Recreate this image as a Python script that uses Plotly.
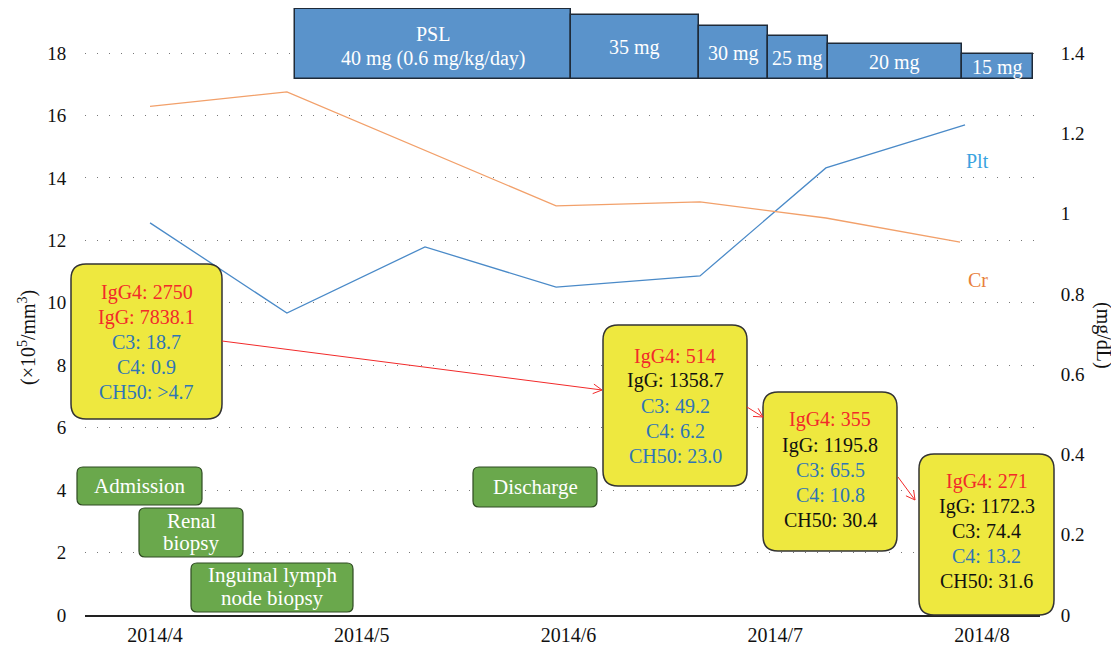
import math
import plotly.graph_objects as go

# ---------------- data ----------------
month_labels = ["2014/4", "2014/5", "2014/6", "2014/7", "2014/8"]
month_pos = [0, 1, 2, 3, 4]

# Platelets (x10^5/mm^3), x in months since 2014/4
plt_x = [-0.024, 0.638, 1.306, 1.94, 2.636, 3.245, 3.918]
plt_y = [12.56, 9.67, 11.79, 10.5, 10.86, 14.32, 15.7]

# Creatinine (mg/dL)
cr_x = [-0.024, 0.638, 1.94, 2.636, 3.245, 3.894]
cr_y = [1.267, 1.303, 1.019, 1.029, 0.989, 0.929]

# PSL dosing periods (months since 2014/4)
psl_start = [0.677, 2.012, 2.631, 2.965, 3.255, 3.903]
psl_end = [2.012, 2.631, 2.965, 3.255, 3.903, 4.247]
psl_top = [19.41, 19.22, 18.86, 18.54, 18.29, 17.97]
psl_base = 17.17
psl_text = [["PSL", "40 mg (0.6 mg/kg/day)"], ["35 mg"], ["30 mg"], ["25 mg"], ["20 mg"], ["15 mg"]]

# ---------------- layout constants ----------------
OFF = 8                      # page body margin of the html page
W, H = 1119 - OFF, 647 - OFF
# plot area in screenshot pixels
SL, SR, ST, SB = 85, 1040, 8, 615
px_per_month = (982 - 155) / 4
xmin = (SL - 155) / px_per_month
xmax = (SR - 155) / px_per_month
px_per_unit = (615 - 53) / 18
ymax = (SB - ST) / px_per_unit
y2max = ymax * 1.4 / 18

FONT = "Liberation Serif"
RED = "#F22A2A"
BLUE = "#2E75B6"
BLK = "#111111"


def xp(px):
    return (px - SL) / (SR - SL)


def yp(py):
    return (SB - py) / (SB - ST)


def rrect(x0, y0, x1, y1, r):
    pts = [
        ("M", [(x0 + r, y0)]),
        ("L", [(x1 - r, y0)]),
        ("Q", [(x1, y0), (x1, y0 + r)]),
        ("L", [(x1, y1 - r)]),
        ("Q", [(x1, y1), (x1 - r, y1)]),
        ("L", [(x0 + r, y1)]),
        ("Q", [(x0, y1), (x0, y1 - r)]),
        ("L", [(x0, y0 + r)]),
        ("Q", [(x0, y0), (x0 + r, y0)]),
    ]
    s = ""
    for cmd, ps in pts:
        s += cmd + " " + " ".join(f"{xp(a):.5f},{yp(b):.5f}" for a, b in ps) + " "
    return s + "Z"


def ptext(px, py, text, size, color, angle=0):
    return dict(x=xp(px), y=yp(py), xref="paper", yref="paper", xanchor="center",
                yanchor="middle", text=text, showarrow=False, textangle=angle,
                font=dict(family=FONT, size=size, color=color))


fig = go.Figure()
shapes = []
annos = []

# PSL bars
centers = [(a + b) / 2 for a, b in zip(psl_start, psl_end)]
widths = [b - a for a, b in zip(psl_start, psl_end)]
heights = [t - psl_base for t in psl_top]
fig.add_trace(go.Bar(
    x=centers, y=heights, base=[psl_base] * len(heights), width=widths,
    marker=dict(color="#5A93CB", line=dict(color="#1E2A38", width=1.5)),
    yaxis="y", showlegend=False, hoverinfo="skip", cliponaxis=False,
))
for c, t, lines in zip(centers, psl_top, psl_text):
    shifts = [0] if len(lines) == 1 else [11, -14]
    for ln, sh in zip(lines, shifts):
        annos.append(dict(x=c, y=(t + psl_base) / 2, xref="x", yref="y", text=ln, yshift=sh - 1,
                          xanchor="center", yanchor="middle", showarrow=False,
                          font=dict(family=FONT, size=20, color="white")))

# lines
fig.add_trace(go.Scatter(x=plt_x, y=plt_y, mode="lines", yaxis="y",
                         line=dict(color="#4A8AC8", width=1.3), showlegend=False))
fig.add_trace(go.Scatter(x=cr_x, y=cr_y, mode="lines", yaxis="y2",
                         line=dict(color="#F2A06A", width=1.3), showlegend=False))

# yellow boxes: (box px), first line y, lines
ybox = [
    ((71, 264, 222, 419), 292, [("IgG4: 2750", RED), ("IgG: 7838.1", RED), ("C3: 18.7", BLUE),
                                ("C4: 0.9", BLUE), ("CH50: &gt;4.7", BLUE)]),
    ((603, 325, 747, 486), 356, [("IgG4: 514", RED), ("IgG: 1358.7", BLK), ("C3: 49.2", BLUE),
                                 ("C4: 6.2", BLUE), ("CH50: 23.0", BLUE)]),
    ((763, 392, 897, 551), 420, [("IgG4: 355", RED), ("IgG: 1195.8", BLK), ("C3: 65.5", BLUE),
                                 ("C4: 10.8", BLUE), ("CH50: 30.4", BLK)]),
    ((919, 454, 1054, 615), 481, [("IgG4: 271", RED), ("IgG: 1172.3", BLK), ("C3: 74.4", BLK),
                                  ("C4: 13.2", BLUE), ("CH50: 31.6", BLK)]),
]
for (x0, y0, x1, y1), ly, lines in ybox:
    shapes.append(dict(type="path", xref="paper", yref="paper", path=rrect(x0, y0, x1, y1, 15),
                       fillcolor="#EEE83F", line=dict(color="#333333", width=1.5), layer="above"))
    for i, (t, c) in enumerate(lines):
        annos.append(ptext((x0 + x1) / 2, ly + 25 * i, t, 20, c))

# green boxes
gbox = [
    ((77, 467, 202, 505), ["Admission"], [486]),
    ((139, 508, 243, 557), ["Renal", "biopsy"], [521, 543]),
    ((191, 563, 353, 612), ["Inguinal lymph", "node biopsy"], [575, 598]),
    ((473, 467, 597, 507), ["Discharge"], [487]),
]
for (x0, y0, x1, y1), lines, ys in gbox:
    shapes.append(dict(type="path", xref="paper", yref="paper", path=rrect(x0, y0, x1, y1, 6),
                       fillcolor="#6AA84C", line=dict(color="#2E4A22", width=1.2), layer="above"))
    for t, y in zip(lines, ys):
        annos.append(ptext((x0 + x1) / 2, y, t, 21, "white"))

# red arrows
arrows = [((222, 341), (602, 390)), ((747, 407), (763, 417)), ((898, 477), (915, 500))]
for (ax, ay), (bx, by) in arrows:
    shapes.append(dict(type="line", xref="paper", yref="paper", x0=xp(ax), y0=yp(ay),
                       x1=xp(bx), y1=yp(by), line=dict(color=RED, width=1), layer="above"))
    ang = math.atan2(by - ay, bx - ax)
    for d in (0.5, -0.5):
        hx = bx - 10 * math.cos(ang + d)
        hy = by - 10 * math.sin(ang + d)
        shapes.append(dict(type="line", xref="paper", yref="paper", x0=xp(hx), y0=yp(hy),
                           x1=xp(bx), y1=yp(by), line=dict(color=RED, width=1), layer="above"))

# labels
annos.append(ptext(977, 161, "Plt", 20, "#3AA3DF"))
annos.append(ptext(978, 280, "Cr", 20, "#E8803A"))
annos.append(ptext(27, 338, "(×10<sup>5</sup>/mm<sup>3</sup>)", 20, BLK, -90))
annos.append(ptext(1104, 335, "(mg/dL)", 20, BLK, 90))

fig.update_layout(
    width=W, height=H, autosize=False,
    margin=dict(l=SL - OFF, r=W - (SR - OFF), t=ST - OFF, b=H - (SB - OFF), pad=0, autoexpand=False),
    paper_bgcolor="white", plot_bgcolor="white",
    font=dict(family=FONT, size=19, color=BLK),
    bargap=0,
    xaxis=dict(range=[xmin, xmax], tickvals=month_pos, ticktext=month_labels, automargin=False,
               showgrid=False, zeroline=False, showline=True, linecolor="#222222", linewidth=1.5,
               ticks="outside", ticklen=1, tickcolor="rgba(0,0,0,0)",
               tickfont=dict(family=FONT, size=20, color=BLK)),
    yaxis=dict(range=[0, ymax], tickvals=list(range(0, 19, 2)), ticktext=[str(v) for v in range(0, 19, 2)],
               automargin=False,
               showgrid=True, gridcolor="#777777", gridwidth=1, griddash="1px,11px",
               zeroline=False, ticks="outside", ticklen=14, tickcolor="rgba(0,0,0,0)",
               tickfont=dict(family=FONT, size=19, color=BLK)),
    yaxis2=dict(range=[0, y2max], overlaying="y", side="right", automargin=False,
                tickvals=[0, 0.2, 0.4, 0.6, 0.8, 1.0, 1.2, 1.4],
                ticktext=["0", "0.2", "0.4", "0.6", "0.8", "1", "1.2", "1.4"],
                showgrid=False, zeroline=False, ticks="outside", ticklen=16,
                tickcolor="rgba(0,0,0,0)", tickfont=dict(family=FONT, size=19, color=BLK)),
    shapes=shapes, annotations=annos,
)

fig.write_html("out.html")
